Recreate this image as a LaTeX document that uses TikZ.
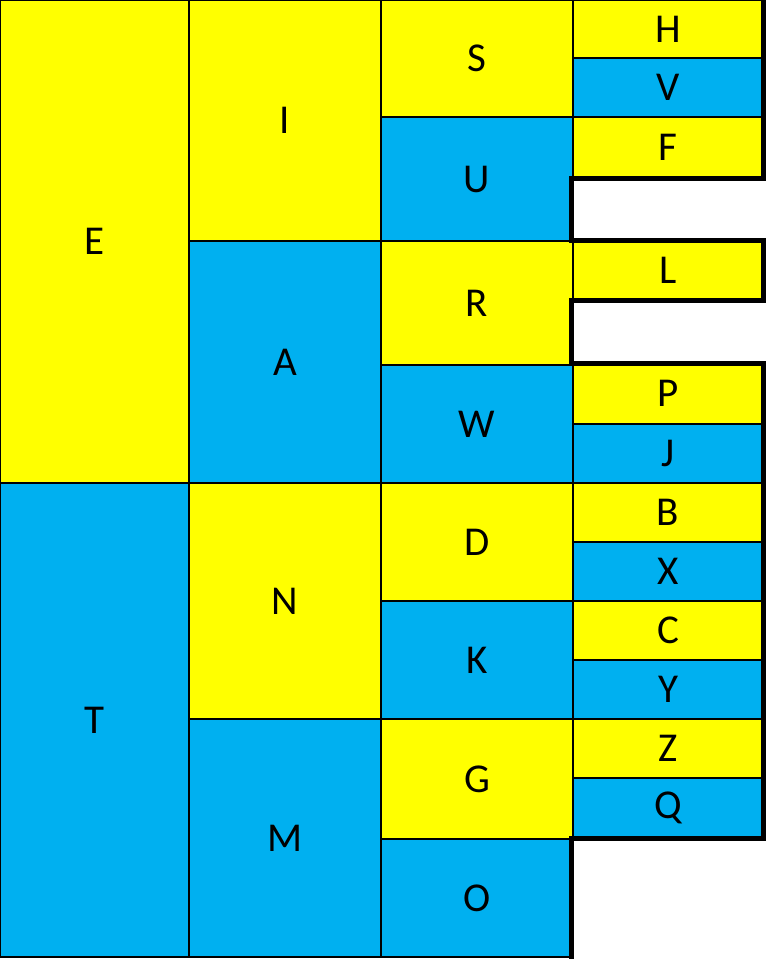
\documentclass[tikz,border=0pt]{standalone}
\usepackage{fontspec}
\setmainfont{Carlito}
\definecolor{cellyellow}{HTML}{FFFF00}
\definecolor{cellblue}{HTML}{00B0F0}

\begin{document}
\begin{tikzpicture}[x=1pt, y=-1pt,
    cell/.style={rectangle, draw, line width=2.6pt, inner sep=0pt, outer sep=0pt, font=\fontsize{41}{42}\selectfont},
    ycell/.style={cell, fill=cellyellow},
    bcell/.style={cell, fill=cellblue},
    heavy/.style={line width=5pt, line join=miter}]
    \useasboundingbox (0,0) rectangle (766,959);
    % first column
    \node [ycell, minimum width=189pt, minimum height=483pt] (E) at (94.5,241.5) {E};
    \node [bcell, minimum width=189pt, minimum height=474pt] (T) at (94.5,720) {T};
    % second column
    \node [ycell, minimum width=192pt, minimum height=241pt] (I) at (285,120.5) {I};
    \node [bcell, minimum width=192pt, minimum height=242pt] (A) at (285,362) {A};
    \node [ycell, minimum width=192pt, minimum height=236pt] (N) at (285,601) {N};
    \node [bcell, minimum width=192pt, minimum height=238pt] (M) at (285,838) {M};
    % third column
    \node [ycell, minimum width=192pt, minimum height=117pt] (S) at (477,58.5) {S};
    \node [bcell, minimum width=192pt, minimum height=124pt] (U) at (477,179) {U};
    \node [ycell, minimum width=192pt, minimum height=124pt] (R) at (477,303) {R};
    \node [bcell, minimum width=192pt, minimum height=118pt] (W) at (477,424) {W};
    \node [ycell, minimum width=192pt, minimum height=118pt] (D) at (477,542) {D};
    \node [bcell, minimum width=192pt, minimum height=118pt] (K) at (477,660) {K};
    \node [ycell, minimum width=192pt, minimum height=120pt] (G) at (477,779) {G};
    \node [bcell, minimum width=192pt, minimum height=118pt] (O) at (477,898) {O};
    % fourth column
    \node [ycell, minimum width=190pt, minimum height=58pt] (H) at (668,29) {H};
    \node [bcell, minimum width=190pt, minimum height=59pt] (V) at (668,87.5) {V};
    \node [ycell, minimum width=190pt, minimum height=61pt] (F) at (668,147.5) {F};
    \node [ycell, minimum width=190pt, minimum height=60pt] (L) at (668,270) {L};
    \node [ycell, minimum width=190pt, minimum height=61pt] (P) at (668,393.5) {P};
    \node [bcell, minimum width=190pt, minimum height=59pt] (J) at (668,453.5) {J};
    \node [ycell, minimum width=190pt, minimum height=59pt] (B) at (668,512.5) {B};
    \node [bcell, minimum width=190pt, minimum height=59pt] (X) at (668,571.5) {X};
    \node [ycell, minimum width=190pt, minimum height=59pt] (C) at (668,630.5) {C};
    \node [bcell, minimum width=190pt, minimum height=59pt] (Y) at (668,689.5) {Y};
    \node [ycell, minimum width=190pt, minimum height=59pt] (Z) at (668,748.5) {Z};
    \node [bcell, minimum width=190pt, minimum height=60pt] (Q) at (668,808) {Q};
    % thick outline round the empty cells
    \draw [heavy] (H.north east) -- (F.south east) -- ([xshift=-2pt]F.south west) -- ([xshift=-2pt]L.north west)
        -- (L.north east) -- (L.south east) -- ([xshift=-2pt]L.south west) -- ([xshift=-2pt]P.north west)
        -- (P.north east) -- (Q.south east) -- ([xshift=-2pt]Q.south west) -- ([xshift=-2pt]Q.south west |- 0,959);
\end{tikzpicture}
\end{document}
